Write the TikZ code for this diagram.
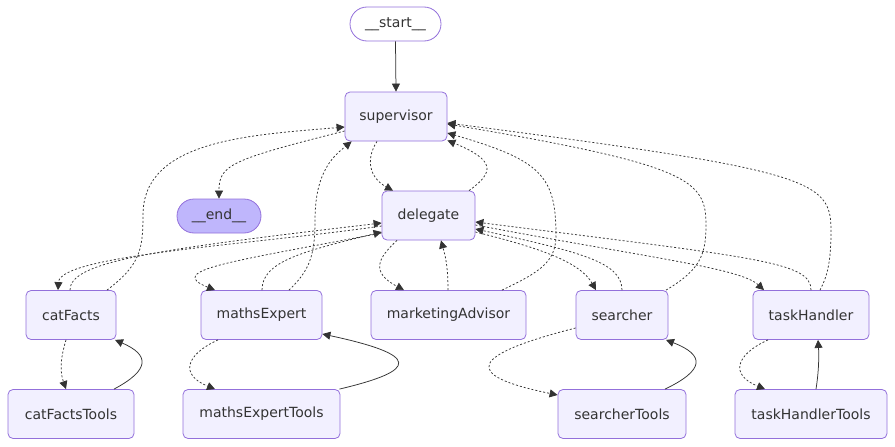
\documentclass[tikz,border=0pt]{standalone}
\usepackage{fontspec}
\setmainfont{DejaVu Sans}
\usetikzlibrary{arrows.meta}
\definecolor{nodefill}{HTML}{F2F0FF}
\definecolor{nodeline}{HTML}{9370DB}
\definecolor{endfill}{HTML}{BFB6FC}
\definecolor{edgecol}{HTML}{333333}
\tikzset{
  box/.style={draw=nodeline, line width=0.8pt, fill=nodefill, rounded corners=5pt, inner sep=0pt,
    text=edgecol, font=\fontsize{14}{16}\selectfont, minimum height=49pt},
  pill/.style={box, rounded corners=17pt, minimum height=34pt},
  cond/.style={draw=edgecol, line width=0.75pt, dash pattern=on 2pt off 2pt, -{Triangle[length=8pt,width=8pt]}},
  norm/.style={draw=edgecol, line width=0.75pt, -{Triangle[length=8pt,width=8pt]}},
}
\begin{document}
\begin{tikzpicture}[x=1pt,y=-1pt]
\useasboundingbox (0,0) rectangle (895,447);
% nodes
\node[pill, fill=white, minimum width=91pt] (start) at (395.5,24) {\_\_start\_\_};
\node[box, minimum width=102pt] (sup) at (396,116.5) {supervisor};
\node[pill, fill=endfill, minimum width=84pt] (end) at (219,216) {\_\_end\_\_};
\node[box, minimum width=93pt] (deleg) at (428.5,215.5) {delegate};
\node[box, minimum width=90pt] (cf) at (71,315) {catFacts};
\node[box, minimum width=121pt] (me) at (261.5,315) {mathsExpert};
\node[box, minimum width=155pt] (mk) at (448.5,315) {marketingAdvisor};
\node[box, minimum width=92pt] (sr) at (622,315) {searcher};
\node[box, minimum width=116pt] (th) at (811,315) {taskHandler};
\node[box, minimum width=126pt] (cft) at (71,414) {catFactsTools};
\node[box, minimum width=157pt] (met) at (261.5,414) {mathsExpertTools};
\node[box, minimum width=128pt] (srt) at (622,414) {searcherTools};
\node[box, minimum width=152pt] (tht) at (811,414) {taskHandlerTools};

% start -> supervisor
\draw[norm] (start.south) -- (sup.north);
% supervisor -> end
\draw[cond] ([yshift=-14.5pt]sup.west) .. controls (230,160) and (219,165) .. (end.north);
% supervisor <-> delegate
\draw[cond] ([xshift=-19pt]sup.south) .. controls (365,160) and (370,178) .. ([xshift=-35.5pt]deleg.north);
\draw[cond] ([xshift=40.5pt]deleg.north) .. controls (495,172) and (495,160) .. ([yshift=1pt]sup.south east);
% workers -> supervisor
\draw[cond] ([xshift=36pt]cf.north) .. controls (140,265) and (143,250) .. (143,215)
  .. controls (143,140) and (250,135) .. ([yshift=-10.5pt]sup.west);
\draw[cond] ([xshift=27.5pt]me.north) .. controls (310,270) and (315,255) .. (315,220)
  .. controls (315,170) and (335,155) .. ([xshift=7pt]sup.south west);
\draw[cond] ([xshift=53.5pt]mk.north) .. controls (540,272) and (556,262) .. (556,235)
  .. controls (556,175) and (540,160) .. ([yshift=-16.5pt]sup.east);
\draw[cond] ([xshift=44pt]sr.north) .. controls (700,270) and (706,255) .. (706,225)
  .. controls (706,180) and (690,165) .. ([yshift=-7.5pt]sup.east);
\draw[cond] ([xshift=9pt]th.north) .. controls (828,275) and (831,260) .. (831,230)
  .. controls (831,180) and (810,170) .. ([yshift=-6.5pt]sup.east);
% delegate <-> workers
\draw[cond] ([yshift=-10.5pt]deleg.west) .. controls (250,245) and (60,255) .. ([xshift=-13pt]cf.north);
\draw[cond] ([xshift=-1pt]cf.north) .. controls (70,262) and (150,250) .. ([yshift=-7.5pt]deleg.west);
\draw[cond] ([yshift=-17.5pt]deleg.west) .. controls (230,262) and (165,270) .. ([xshift=-46.5pt]me.north);
\draw[cond] ([xshift=0.5pt]me.north) .. controls (262,262) and (300,252) .. ([yshift=-16.5pt]deleg.west);
\draw[cond] ([xshift=-31.5pt]deleg.south) .. controls (378,258) and (370,272) .. ([xshift=-44.5pt]mk.north);
\draw[cond] ([xshift=-0.5pt]mk.north) .. controls (448,265) and (445,255) .. ([xshift=12.5pt]deleg.south);
\draw[cond] ([yshift=-16.5pt]deleg.east) .. controls (540,248) and (580,262) .. ([xshift=-26pt]sr.north);
\draw[cond] (sr.north) .. controls (622,262) and (580,252) .. ([yshift=-13.5pt]deleg.east);
\draw[cond] ([yshift=-9.5pt]deleg.east) .. controls (650,258) and (740,268) .. ([xshift=-47pt]th.north);
\draw[cond] (th.north) .. controls (811,262) and (760,258) .. ([yshift=-6.5pt]deleg.east);
% workers <-> tools
\draw[cond] ([xshift=-5pt]cf.south) .. controls (60,360) and (60,372) .. ([xshift=-5pt]cft.north);
\draw[norm] ([xshift=43pt]cft.north) .. controls (150,370) and (150,355) .. ([xshift=44pt]cf.south);
\draw[cond] ([xshift=-43.5pt]me.south) .. controls (185,355) and (180,375) .. ([xshift=-46.5pt]met.north);
\draw[norm] ([xshift=-1pt]met.north east) .. controls (420,370) and (420,355) .. ([yshift=-19pt]me.east);
\draw[cond] ([yshift=-13pt]sr.west) .. controls (470,355) and (460,375) .. ([yshift=19pt]srt.west);
\draw[norm] ([xshift=43pt]srt.north) .. controls (705,370) and (705,355) .. ([xshift=44pt]sr.south);
\draw[cond] ([xshift=-43pt]th.south) .. controls (735,355) and (730,375) .. ([xshift=-46pt]tht.north);
\draw[norm] ([xshift=5pt]tht.north) .. controls (819,370) and (819,355) .. ([xshift=7pt]th.south);
\end{tikzpicture}
\end{document}
